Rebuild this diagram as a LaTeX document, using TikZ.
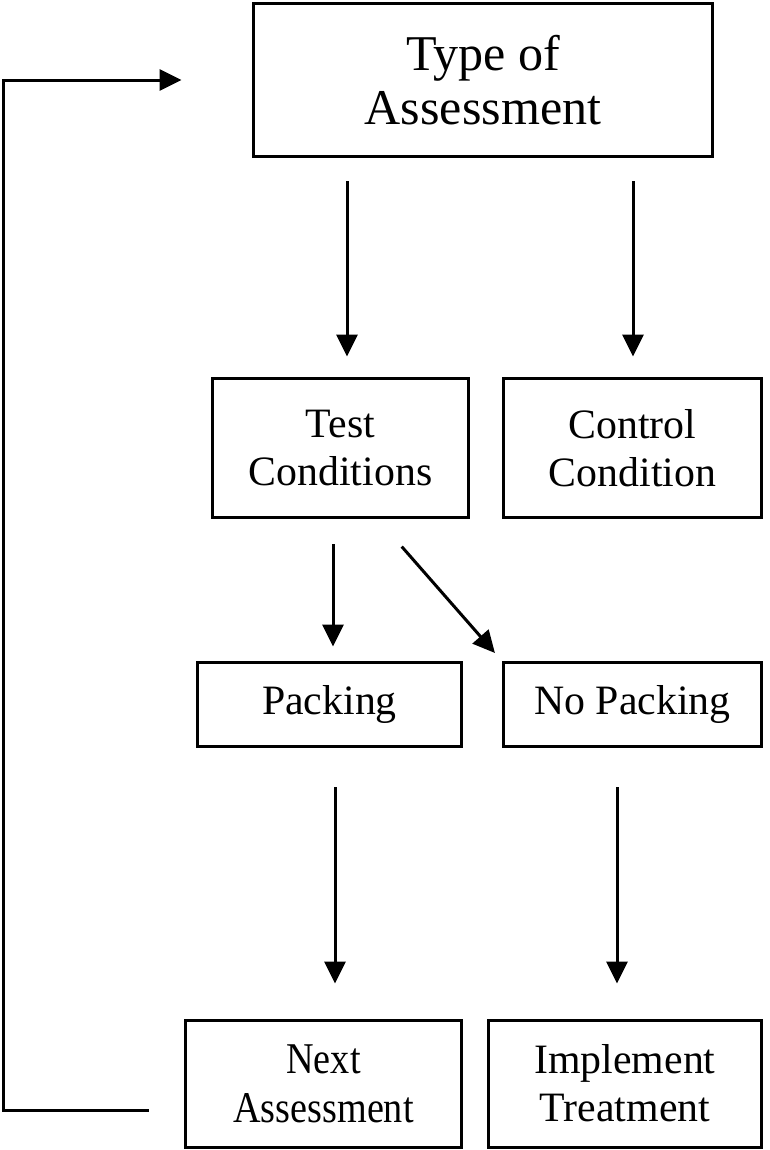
\documentclass[tikz,border=0pt]{standalone}
\usepackage{fontspec}
\setmainfont{Liberation Serif}
\newfontfamily\narrowserif[FakeStretch=0.87]{Liberation Serif}
\usetikzlibrary{arrows.meta,calc}
\tikzset{
  box/.style={draw, align=center, inner sep=0pt, font=\fontsize{23.8}{27.5}\selectfont},
  bigbox/.style={box, font=\fontsize{28.5}{31}\selectfont},
  flow/.style={->}
}
\begin{document}
\begin{tikzpicture}[x=0.02cm, y=-0.02cm, line width=0.06cm,
    >={Triangle[length=0.44cm,width=0.42cm]}]
  \useasboundingbox (0,0) rectangle (769,1150);

  % Boxes
  \node[bigbox, minimum width=9.2cm, minimum height=3.08cm] (type) at (483,80) {Type of\\Assessment};
  \node[box, minimum width=5.14cm, minimum height=2.8cm] (test) at (340.5,448) {Test\\Conditions};
  \node[box, minimum width=5.18cm, minimum height=2.8cm] (control) at (632.5,448) {Control\\Condition};
  \node[box, minimum width=5.3cm, minimum height=1.68cm] (pack) at (329.5,704) {Packing};
  \node[box, minimum width=5.18cm, minimum height=1.68cm] (nopack) at (632.5,704) {No Packing};
  \node[box, minimum width=5.54cm, minimum height=2.54cm, font=\narrowserif\fontsize{25}{28}\selectfont] (next) at (323.5,1083.5) {Next\\Assessment};
  \node[box, minimum width=5.48cm, minimum height=2.54cm] (impl) at (625,1083.5) {Implement\\Treatment};

  % Arrows
  \draw[flow, shorten <=0.46cm, shorten >=0.4cm]
    ($(test.north |- type.south)+(6.5,0)$) -- ($(test.north)+(6.5,0)$);
  \draw[flow, shorten <=0.46cm, shorten >=0.4cm]
    ($(control.north |- type.south)+(0.5,0)$) -- ($(control.north)+(0.5,0)$);
  \draw[flow, shorten <=0.5cm, shorten >=0.28cm]
    ($(pack.north |- test.south)+(3.5,0)$) -- ($(pack.north)+(3.5,0)$);
  \draw[flow, shorten <=0.72cm, shorten >=0.2cm]
    ($(test.south)+(37.5,0)$) -- (nopack.north west);
  \draw[flow, shorten <=0.8cm, shorten >=0.7cm]
    ($(next.north |- pack.south)+(11.5,0)$) -- ($(next.north)+(11.5,0)$);
  \draw[flow, shorten <=0.8cm, shorten >=0.7cm]
    ($(impl.north |- nopack.south)+(-8,0)$) -- ($(impl.north)+(-8,0)$);

  % Back to the start
  \draw[flow, shorten <=0.7cm, shorten >=1.4cm]
    ($(next.west)+(0,26.5)$) -- ++(-180,0) |- (type.west);
\end{tikzpicture}
\end{document}
